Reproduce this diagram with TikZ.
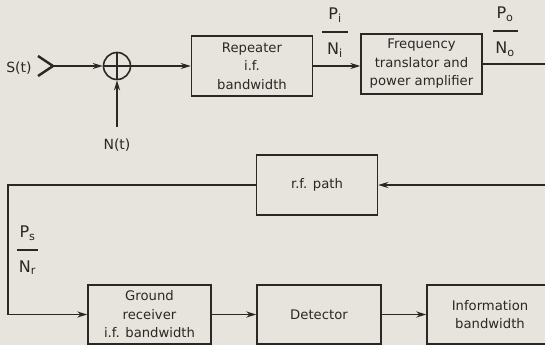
\documentclass[tikz,border=0pt]{standalone}
\usepackage{fontspec}
\setmainfont{DejaVu Sans}
\usetikzlibrary{arrows.meta}
\definecolor{ink}{HTML}{2B2725}
\definecolor{paper}{HTML}{E6E4DD}
\tikzset{
  blk/.style={draw=ink, line width=1.4pt, minimum width=121pt, minimum height=60pt,
    align=center, inner sep=2pt, text=ink, font=\fontsize{13.2}{18.5}\selectfont},
  wire/.style={draw=ink, line width=1.7pt},
  sig/.style={wire, -{Stealth[length=10pt,width=6pt]}},
  lbl/.style={text=ink, font=\fontsize{14}{17}\selectfont},
  frac/.style={text=ink, inner sep=0pt, font=\fontsize{16}{18}\selectfont},
  bar/.style={draw=ink, line width=1.3pt},
}

\begin{document}
\begin{tikzpicture}[x=1pt,y=1pt]
        \clip (0,0) rectangle (545,345);
        \fill[paper] (0,0) rectangle (545,345);
        \node[blk] (rep) at (252,279) {Repeater\\i.f.\\bandwidth};
        \node[blk] (frq) at (421.5,281) {Frequency\\translator and\\power amplifier};
        \node[blk] (rf) at (317,160) {r.f. path};
        \node[blk, minimum width=123pt, minimum height=59pt] (gnd) at (149.5,30.5) {Ground\\receiver\\i.f. bandwidth};
        \node[blk, minimum width=124pt, minimum height=59pt] (det) at (319,30.5) {Detector};
        \node[blk, minimum width=126pt, minimum height=59pt] (info) at (490,30.5) {Information\\bandwidth};
        \node[draw=ink, line width=1.6pt, circle, minimum size=27pt, inner sep=0pt] (sum) at (117,279) {};
        \draw[wire] (sum.north) -- (sum.south) (sum.west) -- (sum.east);
        \node[lbl] (s) at (19,277) {S(t)};
        \node[lbl] (n) at (117,200) {N(t)};
        \coordinate (pib) at (335,313);
        \coordinate (pob) at (505,314);
        \coordinate (psb) at (27.5,95);
        \draw[bar] ([xshift=-13pt]pib) -- ([xshift=13pt]pib);
        \draw[bar] ([xshift=-12.5pt]pob) -- ([xshift=12.5pt]pob);
        \draw[bar] ([xshift=-10.5pt]psb) -- ([xshift=10.5pt]psb);
        \node[frac, anchor=base] (pin) at ([yshift=12pt]pib) {P\textsubscript{i}};
        \node[frac, anchor=base] (nin) at ([yshift=-23pt]pib) {N\textsubscript{i}};
        \node[frac, anchor=base] (pon) at ([yshift=12pt]pob) {P\textsubscript{o}};
        \node[frac, anchor=base] (non) at ([yshift=-23pt]pob) {N\textsubscript{o}};
        \node[frac, anchor=base] (psn) at ([yshift=12pt]psb) {P\textsubscript{s}};
        \node[frac, anchor=base] (nrn) at ([yshift=-22pt]psb) {N\textsubscript{r}};
        \coordinate (tip) at (53,279);
        \coordinate (nsrc) at (117,218);
        \coordinate (edge) at (565,0);
        \coordinate (lft) at (8,0);
        \draw[ink, line width=2.4pt] ([shift={(-15,10)}]tip) -- (tip) -- ([shift={(-15,-10)}]tip);
        \draw[sig] (tip) -- (sum.west);
        \draw[sig] (nsrc) -- (sum.south);
        \draw[sig] (sum.east) -- (rep.west);
        \draw[sig] (rep.east) -- (rep.east -| frq.west);
        \draw[sig] (frq.east) -- (frq.east -| edge) |- (rf.east);
        \draw[sig] (rf.west) -- (rf.west -| lft) |- (gnd.west);
        \draw[sig] (gnd) -- (det);
        \draw[sig] (det) -- (info);
    \end{tikzpicture}
\end{document}
